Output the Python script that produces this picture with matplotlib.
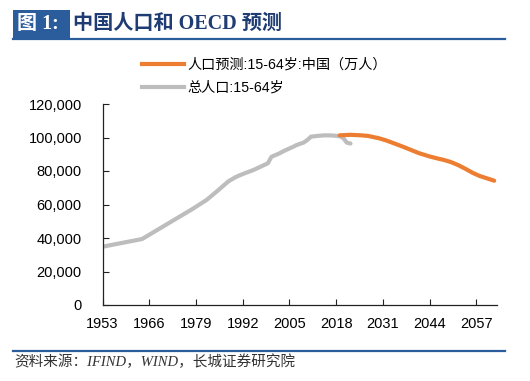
import matplotlib
matplotlib.use("Agg")
import matplotlib.pyplot as plt
from matplotlib.patches import Rectangle
from matplotlib.lines import Line2D
from matplotlib.ticker import FuncFormatter

plt.rcParams['font.family'] = ['Liberation Sans', 'Noto Sans CJK SC', 'DejaVu Sans']

# data (万人)
hist_years = [1953, 1964, 1978, 1982, 1985, 1988, 1990, 1991, 1993, 1995, 1997, 1999,
              2000, 2002, 2004, 2006, 2007, 2009, 2010, 2011, 2013, 2015, 2017,
              2019, 2020, 2021, 2022]
hist_vals = [34800, 39400, 57300, 62800, 68200, 73800, 76300, 77300, 79000, 80600, 82600, 84600,
             88500, 90300, 92500, 94400, 95500, 97000, 98500, 100500, 101000, 101300, 101200,
             100800, 99600, 96900, 96400]

proj_years = [2019, 2022, 2025, 2027, 2030, 2032, 2034, 2036, 2038, 2041, 2044, 2046,
              2048, 2050, 2052, 2054, 2056, 2058, 2062]
proj_vals = [101300, 101600, 101300, 100900, 99500, 98200, 96600, 95000, 93300, 90700, 88700, 87600,
             86600, 85300, 83500, 81300, 78900, 77000, 74200]

xticks = list(range(1953, 2058, 13))
yticks = [0, 20000, 40000, 60000, 80000, 100000, 120000]

legend_labels = ['人口预测:15-64岁:中国（万人）', '总人口:15-64岁']
title_tag = '图 1:'
title = '中国人口和 OECD 预测'
source = '资料来源：IFIND，WIND，长城证券研究院'

orange = '#ED7D31'
grey = '#BDBDBD'
blue = '#2B5C9B'
navy = '#1F3C73'

W, H = 530, 381
fig = plt.figure(figsize=(W / 100, H / 100), dpi=100)

def fx(px):
    return px / W

def fy(py):
    return 1 - py / H

# header
fig.patches.append(Rectangle((fx(13), fy(38)), fx(57), 28 / H, transform=fig.transFigure,
                             facecolor=blue, edgecolor='none'))
fig.lines.append(Line2D([fx(13), fx(505)], [fy(39), fy(39)], transform=fig.transFigure,
                        color=blue, linewidth=1.6))
fig.text(fx(17), fy(24), title_tag, color='white', fontsize=14.5, fontweight='bold',
         family=['Liberation Serif', 'Noto Sans CJK SC'], va='center', ha='left')
fig.text(fx(73), fy(24), title, color=navy, fontsize=14.5, fontweight='bold',
         family=['Liberation Serif', 'Noto Sans CJK SC'], va='center', ha='left')

# footer
fig.lines.append(Line2D([fx(13), fx(505)], [fy(351), fy(351)], transform=fig.transFigure,
                        color=blue, linewidth=1.6))
fig.text(fx(14), fy(362), source, color='#333333', fontsize=10.5, style='italic',
         family=['Liberation Serif', 'Noto Sans CJK SC'], va='center', ha='left')

# plot area
ax = fig.add_axes([fx(102.6), fy(305), fx(496.7 - 102.6), (305 - 104) / H])
ax.plot(proj_years, proj_vals, color=orange, linewidth=3, solid_capstyle='round',
        solid_joinstyle='round', zorder=3)
ax.plot(hist_years, hist_vals, color=grey, linewidth=3, solid_capstyle='round',
        solid_joinstyle='round', zorder=2)

ax.set_xlim(1953, 2062.7)
ax.set_ylim(0, 120000)
ax.set_xticks(xticks)
ax.set_yticks(yticks)
ax.yaxis.set_major_formatter(FuncFormatter(lambda v, p: f'{int(v):,}'))
ax.tick_params(axis='both', direction='in', length=4, width=0.8, labelsize=10.5,
               colors='#222222', labelcolor='black')
ax.tick_params(axis='y', pad=15)
ax.tick_params(axis='x', pad=9)
for s in ['top', 'right']:
    ax.spines[s].set_visible(False)
for s in ['left', 'bottom']:
    ax.spines[s].set_color('#222222')
    ax.spines[s].set_linewidth(0.9)

# legend at the top
handles = [Line2D([], [], color=orange, linewidth=3), Line2D([], [], color=grey, linewidth=3)]
fig.legend(handles, legend_labels, loc='upper left', bbox_to_anchor=(fx(141.5), fy(58)),
           frameon=False, fontsize=10.2, handlelength=3.0, handletextpad=0.25,
           labelspacing=0.62, borderaxespad=0, borderpad=0)

fig.savefig('out.png', dpi=100)
